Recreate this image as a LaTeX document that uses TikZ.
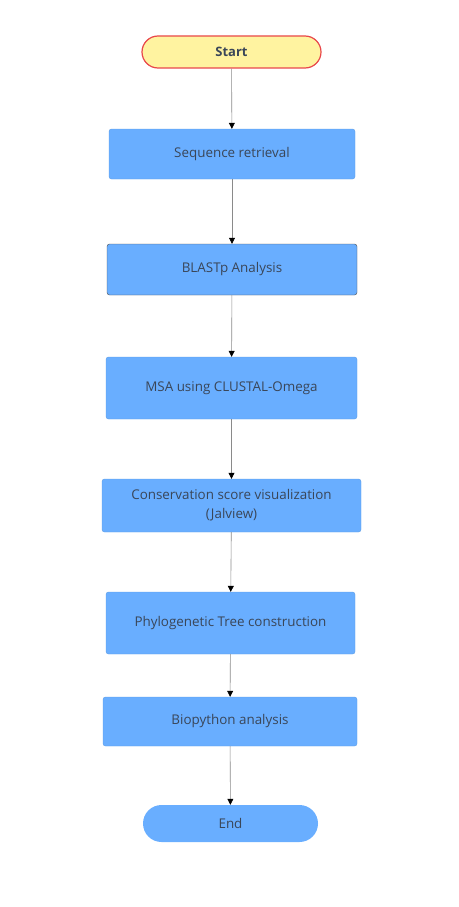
\documentclass[tikz,border=0pt]{standalone}
\usepackage{fontspec}
\setmainfont{Open Sans}
\usetikzlibrary{arrows.meta,shapes.misc}
\definecolor{boxblue}{HTML}{69AEFF}
\definecolor{txt}{HTML}{3A4658}
\definecolor{startfill}{HTML}{FFF3A0}
\definecolor{startdraw}{HTML}{E8474A}
\definecolor{linegray}{HTML}{8A8A8A}
\tikzset{
  stepbox/.style={rectangle, rounded corners=2.5pt, fill=boxblue, draw=boxblue!90!black, line width=0.4pt,
    text=txt, font=\fontsize{13.4}{19}\selectfont, align=center, inner sep=0pt},
  term/.style={rounded rectangle, text=txt, font=\fontsize{13.4}{19}\selectfont, inner sep=0pt},
  conn/.style={draw=linegray, line width=0.6pt, -{Triangle[width=6pt,length=6pt,color=black]}}
}
\begin{document}
\begin{tikzpicture}[x=1pt,y=-1pt]
\useasboundingbox (0,0) rectangle (458,907);
\node[term, minimum width=179pt, minimum height=32pt, fill=startfill, draw=startdraw, line width=1.2pt, font=\fontsize{13}{16}\selectfont\bfseries] (start) at (231.5,52) {Start};
\node[stepbox, minimum width=246pt, minimum height=50pt] (seq) at (232,154) {Sequence retrieval};
\node[stepbox, minimum width=250pt, minimum height=51pt, draw=black!70] (blast) at (232,269.5) {BLASTp Analysis};
\node[stepbox, minimum width=251pt, minimum height=62pt] (msa) at (231.5,388) {MSA using CLUSTAL-Omega};
\node[stepbox, minimum width=259pt, minimum height=53pt] (cons) at (231.5,505.5) {Conservation score visualization\\(Jalview)};
\node[stepbox, minimum width=249pt, minimum height=62pt] (phylo) at (230.5,623) {Phylogenetic Tree construction};
\node[stepbox, minimum width=254pt, minimum height=49pt] (bio) at (230,721.5) {Biopython analysis};
\node[term, minimum width=175pt, minimum height=37pt, fill=boxblue] (end) at (230.5,823.5) {End};
\draw[conn] (start) -- (seq);
\draw[conn] (seq) -- (blast);
\draw[conn] (blast) -- (msa);
\draw[conn] (msa) -- (cons);
\draw[conn] (cons) -- (phylo);
\draw[conn] (phylo) -- (bio);
\draw[conn] (bio) -- (end);
\end{tikzpicture}
\end{document}
